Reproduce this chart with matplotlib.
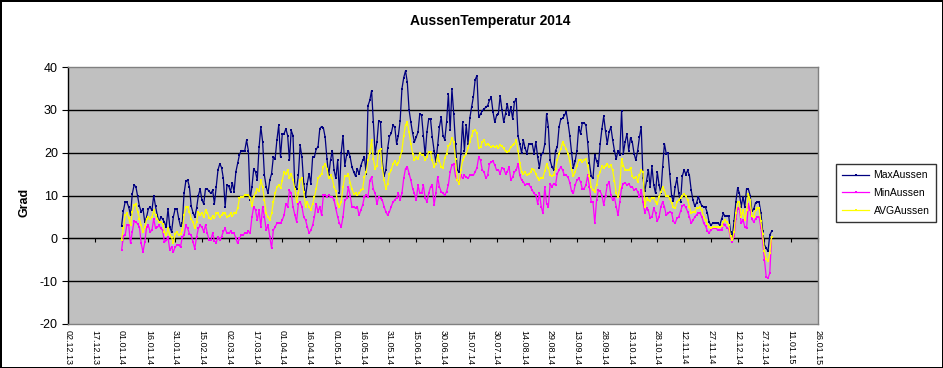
import numpy as np
import pandas as pd
import matplotlib
matplotlib.use("Agg")
import matplotlib.pyplot as plt
import matplotlib.dates as mdates

plt.rcParams['font.family'] = ['Liberation Sans', 'DejaVu Sans']

TITLE = "AussenTemperatur 2014"
YLABEL = "Grad"
SERIES_NAMES = ["MaxAussen", "MinAussen", "AVGAussen"]
START_DATE = "01.01.14"

TICK_LABELS = ["02.12.13", "17.12.13", "01.01.14", "16.01.14", "31.01.14", "15.02.14",
               "02.03.14", "17.03.14", "01.04.14", "16.04.14", "01.05.14", "16.05.14",
               "31.05.14", "15.06.14", "30.06.14", "15.07.14", "30.07.14", "14.08.14",
               "29.08.14", "13.09.14", "28.09.14", "13.10.14", "28.10.14", "12.11.14",
               "27.11.14", "12.12.14", "27.12.14", "11.01.15", "26.01.15"]
YTICKS = [-20, -10, 0, 10, 20, 30, 40]

MAX_AUSSEN = [
    2.9, 6.4, 8.5, 8.4, 7.3, 5.4, 10.4, 12.4, 12.1, 9.8,
    7.5, 6.2, 6.9, 3.8, 5.0, 6.9, 7.3, 6.5, 10.0, 7.5,
    5.4, 3.8, 5.0, 4.5, 3.8, 2.6, 6.9, 2.6, 1.5, 5.0,
    6.9, 6.9, 4.6, 2.8, 3.5, 10.5, 13.4, 13.6, 12.0, 7.5,
    6.0, 5.0, 7.0, 10.0, 11.5, 9.0, 8.0, 11.6, 11.5, 11.0,
    10.5, 11.2, 8.1, 12.0, 16.0, 17.4, 16.5, 14.0, 7.4, 12.4,
    12.2, 10.9, 13.0, 10.9, 15.5, 17.5, 19.5, 20.5, 20.4, 20.5,
    22.9, 20.5, 9.0, 12.0, 16.3, 15.5, 13.6, 21.3, 26.0, 22.5,
    14.7, 12.0, 10.5, 13.6, 15.1, 19.0, 18.6, 23.0, 26.4, 19.0,
    24.4, 24.4, 25.6, 24.0, 18.2, 25.2, 24.0, 12.0, 11.6, 14.7,
    21.7, 19.0, 12.8, 9.7, 12.8, 15.1, 12.8, 19.0, 19.0, 20.9,
    21.3, 25.6, 26.1, 25.8, 23.6, 18.6, 14.7, 18.2, 20.5, 15.9,
    14.0, 18.2, 10.5, 20.0, 24.0, 17.0, 19.4, 20.5, 19.0, 16.7,
    15.5, 14.5, 16.3, 15.0, 17.0, 18.2, 19.0, 15.1, 31.0, 32.2,
    34.5, 27.1, 19.8, 22.5, 27.5, 27.1, 18.0, 14.5, 16.0, 21.0,
    23.8, 24.5, 26.4, 26.0, 22.1, 24.0, 27.5, 34.9, 37.5, 39.1,
    36.5, 30.0, 27.1, 24.5, 22.5, 23.6, 24.8, 29.1, 28.7, 24.0,
    19.4, 24.8, 27.9, 27.9, 23.6, 20.5, 17.8, 21.7, 26.0, 28.3,
    24.0, 23.0, 27.1, 33.7, 25.2, 34.9, 29.1, 22.1, 15.9, 15.5,
    19.8, 27.1, 20.5, 26.4, 22.1, 28.0, 30.6, 33.0, 37.0, 38.0,
    28.3, 29.0, 29.8, 30.2, 30.6, 31.0, 32.2, 32.9, 29.5, 27.1,
    28.7, 29.0, 33.3, 30.0, 27.1, 29.1, 31.4, 28.7, 30.6, 27.9,
    31.8, 32.6, 24.0, 22.0, 20.0, 22.9, 21.0, 19.8, 22.0, 22.1,
    22.0, 19.8, 22.5, 19.0, 16.5, 19.5, 20.0, 22.0, 29.1, 26.0,
    18.2, 16.7, 16.0, 20.5, 21.3, 26.0, 27.9, 28.0, 28.7, 29.5,
    27.0, 24.0, 20.0, 16.5, 18.0, 20.5, 26.0, 24.4, 26.9, 26.9,
    26.5, 22.5, 17.5, 14.5, 14.0, 19.5, 18.0, 17.0, 22.0, 25.6,
    28.5, 25.0, 22.1, 24.8, 26.0, 23.0, 20.5, 18.5, 20.5, 19.5,
    29.8, 19.8, 22.5, 24.4, 20.5, 23.5, 22.5, 19.8, 18.2, 20.5,
    23.6, 26.0, 14.0, 11.0, 13.5, 16.0, 12.0, 16.8, 12.5, 10.5,
    15.5, 12.5, 10.5, 16.7, 22.1, 19.8, 20.0, 15.0, 10.0, 8.7,
    12.0, 14.0, 10.5, 8.5, 14.5, 16.0, 14.9, 15.9, 14.7, 11.2,
    8.9, 7.5, 8.3, 9.7, 8.5, 7.5, 7.4, 7.2, 6.0, 3.8,
    3.1, 3.5, 3.5, 3.5, 3.5, 3.1, 4.5, 5.8, 5.1, 5.2,
    5.3, 1.5, 0.4, 4.0, 8.5, 11.8, 10.5, 7.4, 9.7, 7.4,
    11.6, 11.5, 10.0, 6.3, 6.8, 8.3, 8.5, 8.5, 6.0, 1.8,
    -1.5, -2.3, -3.0, 0.8, 1.6,
]

MIN_AUSSEN = [
    -2.8, 0.5, 0.7, 3.2, 3.0, -1.2, 1.5, 4.0, 3.8, 3.4,
    2.6, -1.2, -3.2, -0.9, 2.6, 3.0, 1.5, 1.9, 4.6, 2.3,
    2.6, 3.0, 2.3, 1.9, -0.9, -0.5, 0.3, -2.8, -2.0, -3.2,
    -2.0, -1.6, -1.6, -2.0, 0.3, 0.7, 3.0, 2.3, 1.1, 0.7,
    -0.9, -2.4, 0.3, 2.3, 3.0, 2.7, 1.5, 3.1, 1.2, -0.4,
    -0.4, 1.2, -0.6, -1.0, 0.4, -0.4, 0.4, 1.6, 2.3, 1.2,
    1.2, 1.6, 1.2, 1.2, 0.0, -1.2, 0.0, 0.8, 0.8, 1.2,
    1.2, 1.6, 1.2, 5.0, 7.4, 6.6, 4.3, 6.6, 2.7, 7.4,
    5.0, 1.9, 3.1, 0.4, -2.3, 1.9, 2.7, 3.5, 3.5, 3.5,
    4.3, 5.4, 8.1, 7.4, 11.2, 10.5, 7.4, 5.5, 3.9, 8.1,
    8.5, 7.4, 5.0, 4.3, 2.7, 1.2, 1.9, 3.1, 5.0, 8.1,
    6.2, 7.4, 5.4, 10.1, 10.1, 9.7, 10.1, 9.7, 9.7, 8.9,
    7.0, 5.0, 3.5, 2.7, 5.0, 8.9, 9.3, 12.0, 10.0, 7.4,
    7.4, 7.0, 7.4, 5.4, 6.6, 7.8, 9.7, 10.1, 9.7, 13.5,
    14.3, 11.5, 10.5, 8.0, 9.7, 9.3, 8.9, 7.4, 6.2, 5.4,
    6.2, 7.4, 8.5, 8.9, 9.5, 10.5, 9.0, 10.5, 14.0, 16.3,
    16.7, 15.1, 13.6, 11.6, 10.5, 8.9, 12.4, 10.5, 10.5, 12.4,
    9.5, 8.5, 10.5, 12.0, 12.4, 7.8, 10.5, 14.3, 12.0, 10.9,
    10.5, 10.1, 10.9, 12.5, 15.5, 17.1, 17.4, 14.5, 13.6, 13.2,
    14.7, 14.0, 14.7, 14.3, 14.0, 14.7, 14.7, 14.7, 15.5, 16.5,
    19.0, 18.2, 15.9, 15.5, 14.0, 14.7, 17.4, 17.8, 18.0, 17.1,
    15.9, 16.0, 15.1, 16.5, 16.3, 15.1, 15.5, 16.7, 13.6, 14.3,
    15.5, 15.9, 17.4, 14.7, 13.6, 13.2, 12.4, 12.8, 12.6, 12.0,
    11.2, 10.5, 10.1, 8.1, 10.5, 7.4, 5.8, 12.0, 8.1, 7.4,
    12.8, 12.0, 12.8, 12.4, 15.1, 15.9, 16.7, 15.9, 14.7, 14.7,
    14.3, 13.0, 11.0, 10.5, 12.4, 13.6, 14.0, 13.2, 11.6, 11.6,
    12.4, 14.7, 12.0, 8.5, 8.5, 3.5, 9.0, 11.2, 11.0, 10.0,
    7.8, 10.0, 12.4, 13.2, 10.1, 8.9, 9.5, 7.4, 5.4, 8.5,
    11.8, 12.8, 13.0, 12.4, 12.8, 12.0, 12.0, 11.2, 11.6, 10.9,
    9.7, 11.2, 8.5, 6.0, 7.0, 6.5, 4.8, 5.0, 7.0, 6.0,
    4.0, 5.0, 7.4, 8.5, 7.4, 5.4, 5.8, 6.2, 6.0, 4.0,
    3.5, 4.7, 5.0, 6.3, 7.6, 7.8, 7.2, 6.2, 5.0, 3.5,
    4.2, 5.0, 5.5, 6.0, 5.8, 5.0, 3.5, 2.9, 1.8, 1.2,
    2.0, 2.3, 2.3, 2.3, 1.9, 1.9, 1.9, 3.5, 3.0, 2.5,
    2.2, 0.0, -0.8, 0.5, 4.5, 7.0, 6.8, 3.5, 4.3, 2.7,
    2.3, 8.0, 6.6, 4.5, 3.8, 4.6, 5.0, 5.0, 2.5, -0.5,
    -5.0, -9.0, -9.3, -8.1, 0.4,
]

AVG_AUSSEN = [
    -0.3, 2.3, 5.4, 5.8, 4.8, 3.0, 6.2, 7.7, 7.9, 6.2,
    4.6, 3.0, 1.5, 2.6, 4.6, 5.0, 4.6, 5.0, 6.5, 5.4,
    4.6, 3.8, 3.8, 3.4, 1.5, 0.7, 2.3, 0.7, 0.3, -1.2,
    1.1, 1.5, 0.7, 1.1, 1.9, 5.4, 7.3, 7.3, 6.2, 4.6,
    3.8, 2.3, 3.8, 6.2, 5.5, 6.0, 5.0, 6.6, 6.0, 4.8,
    4.6, 5.2, 4.7, 5.8, 5.8, 5.0, 5.4, 5.8, 5.8, 5.0,
    5.2, 5.8, 5.2, 5.8, 6.0, 7.0, 9.3, 9.7, 9.7, 10.1,
    10.1, 10.1, 9.5, 7.5, 9.7, 10.7, 11.5, 11.0, 13.6, 12.0,
    8.9, 5.8, 5.0, 4.3, 5.8, 8.5, 10.5, 12.0, 12.4, 11.8,
    13.5, 15.5, 15.1, 15.9, 14.0, 15.1, 13.6, 11.6, 8.5, 10.5,
    13.6, 14.0, 10.9, 7.4, 8.5, 7.4, 6.6, 8.1, 9.7, 11.6,
    14.0, 14.5, 15.1, 16.7, 17.4, 16.3, 14.0, 14.7, 14.0, 12.0,
    11.0, 8.0, 7.4, 8.5, 12.0, 14.5, 14.5, 15.0, 13.0, 11.5,
    10.3, 10.5, 10.1, 10.5, 11.2, 11.6, 14.3, 15.5, 18.2, 20.0,
    23.0, 18.5, 16.3, 17.0, 20.5, 20.8, 16.5, 13.6, 11.6, 12.8,
    15.1, 15.9, 17.4, 18.0, 17.1, 17.5, 19.0, 20.5, 24.0, 26.5,
    27.1, 24.8, 22.1, 19.8, 18.2, 19.0, 18.5, 20.0, 19.5, 19.5,
    18.2, 19.0, 20.2, 20.2, 18.2, 16.7, 17.4, 19.4, 18.0, 16.7,
    16.5, 18.8, 19.8, 21.5, 22.0, 23.5, 22.5, 18.5, 13.6, 12.8,
    15.9, 18.2, 19.0, 19.8, 21.0, 22.5, 24.0, 25.0, 25.4, 24.5,
    21.0, 21.3, 22.5, 22.9, 21.7, 22.1, 21.7, 21.3, 21.5, 21.3,
    21.6, 21.0, 21.7, 21.5, 21.0, 20.3, 20.2, 20.5, 21.3, 21.7,
    22.1, 22.9, 20.5, 17.5, 15.5, 15.0, 15.5, 14.7, 15.0, 15.4,
    16.3, 15.9, 15.1, 14.0, 13.7, 14.2, 14.2, 15.8, 17.3, 16.5,
    14.7, 14.5, 14.9, 16.3, 18.2, 19.8, 20.9, 22.5, 21.7, 20.9,
    19.8, 18.0, 16.0, 14.5, 15.5, 17.0, 18.2, 18.2, 17.8, 18.2,
    18.6, 17.0, 14.5, 12.0, 11.2, 10.9, 12.5, 14.5, 15.5, 16.9,
    16.5, 17.0, 17.4, 16.7, 17.1, 15.9, 13.5, 10.5, 9.7, 12.0,
    18.5, 17.0, 16.0, 15.9, 15.9, 16.5, 14.5, 14.0, 14.3, 13.2,
    14.7, 15.9, 15.5, 7.4, 9.5, 9.0, 8.8, 9.5, 9.5, 8.5,
    8.1, 9.6, 10.9, 12.0, 11.2, 9.8, 10.0, 9.2, 8.3, 7.2,
    7.0, 8.5, 9.0, 9.5, 10.0, 10.4, 9.8, 8.9, 7.4, 5.8,
    6.2, 6.2, 7.0, 7.0, 7.2, 6.5, 5.0, 4.2, 3.4, 2.6,
    2.3, 2.6, 2.7, 2.7, 2.7, 2.7, 2.9, 3.9, 4.2, 3.8,
    3.2, 0.5, -0.4, 1.5, 6.0, 8.5, 8.4, 5.0, 6.6, 4.3,
    6.5, 10.3, 9.0, 5.2, 5.0, 6.5, 7.0, 7.0, 4.0, 1.0,
    -3.0, -4.8, -5.4, -3.5, 0.4,
]

COLORS = ["#000080", "#FF00FF", "#FFFF00"]

assert len(MAX_AUSSEN) == len(MIN_AUSSEN) == len(AVG_AUSSEN), (len(MAX_AUSSEN), len(MIN_AUSSEN), len(AVG_AUSSEN))

W, H = 943, 368
fig = plt.figure(figsize=(W / 100, H / 100), dpi=100)
fig.patch.set_facecolor("white")
fig.patch.set_edgecolor("black")
fig.patch.set_linewidth(2)

L, R, T, B = 68, 818, 67, 324
ax = fig.add_axes([L / W, 1 - B / H, (R - L) / W, (B - T) / H])
ax.set_facecolor("#C0C0C0")

start = pd.to_datetime(START_DATE, format="%d.%m.%y")
dates = pd.date_range(start, periods=len(MAX_AUSSEN), freq="D")
x = mdates.date2num(dates)
tick_dates = pd.to_datetime(TICK_LABELS, format="%d.%m.%y")
tx = mdates.date2num(tick_dates)

for v in YTICKS[1:-1]:
    ax.axhline(v, color="black", lw=1.0, zorder=1)

for vals, name, col in zip([MAX_AUSSEN, MIN_AUSSEN, AVG_AUSSEN], SERIES_NAMES, COLORS):
    ax.plot(x, vals, color=col, lw=0.9, marker="s", markersize=1.6,
            markeredgewidth=0, label=name, zorder=3)

ax.set_xlim(tx[0], tx[-1])
ax.set_ylim(YTICKS[0], YTICKS[-1])
ax.set_yticks(YTICKS)
ax.set_yticklabels([str(v) for v in YTICKS], fontsize=9)
ax.tick_params(axis="y", direction="out", length=4.3, width=0.8, pad=3, colors="black")

ax.set_xticks(tx)
ax.set_xticklabels(TICK_LABELS, rotation=270, fontsize=6.5, ha="center", va="top")
ax.tick_params(axis="x", length=0, pad=4)

for s in ["top", "right", "bottom"]:
    ax.spines[s].set_color("#808080")
    ax.spines[s].set_linewidth(1.0)
ax.spines["left"].set_color("black")
ax.spines["left"].set_linewidth(1.0)

# category axis crossing at 0 with small tick marks
sec = ax.secondary_xaxis((0 - YTICKS[0]) / (YTICKS[-1] - YTICKS[0]))
sec.set_xticks(tx)
sec.set_xticklabels([])
sec.tick_params(axis="x", direction="out", length=3, width=0.8, colors="black")
sec.spines["bottom"].set_color("black")

fig.text(490 / W, 1 - 21 / H, TITLE, ha="center", va="center",
         fontsize=10, fontweight="bold")
fig.text(25 / W, 1 - 202 / H, YLABEL, ha="center", va="center",
         rotation=90, fontsize=9, fontweight="bold")

leg = fig.legend(loc="upper left", bbox_to_anchor=(836 / W, 1 - 164 / H),
                 bbox_transform=fig.transFigure, fontsize=7.5, frameon=True,
                 fancybox=False, shadow=False, borderaxespad=0,
                 handlelength=2.6, handletextpad=0.4, labelspacing=0.75,
                 borderpad=0.6, markerscale=1.0)
leg.get_frame().set_edgecolor("black")
leg.get_frame().set_linewidth(1.0)

fig.savefig("out.png", dpi=100)
